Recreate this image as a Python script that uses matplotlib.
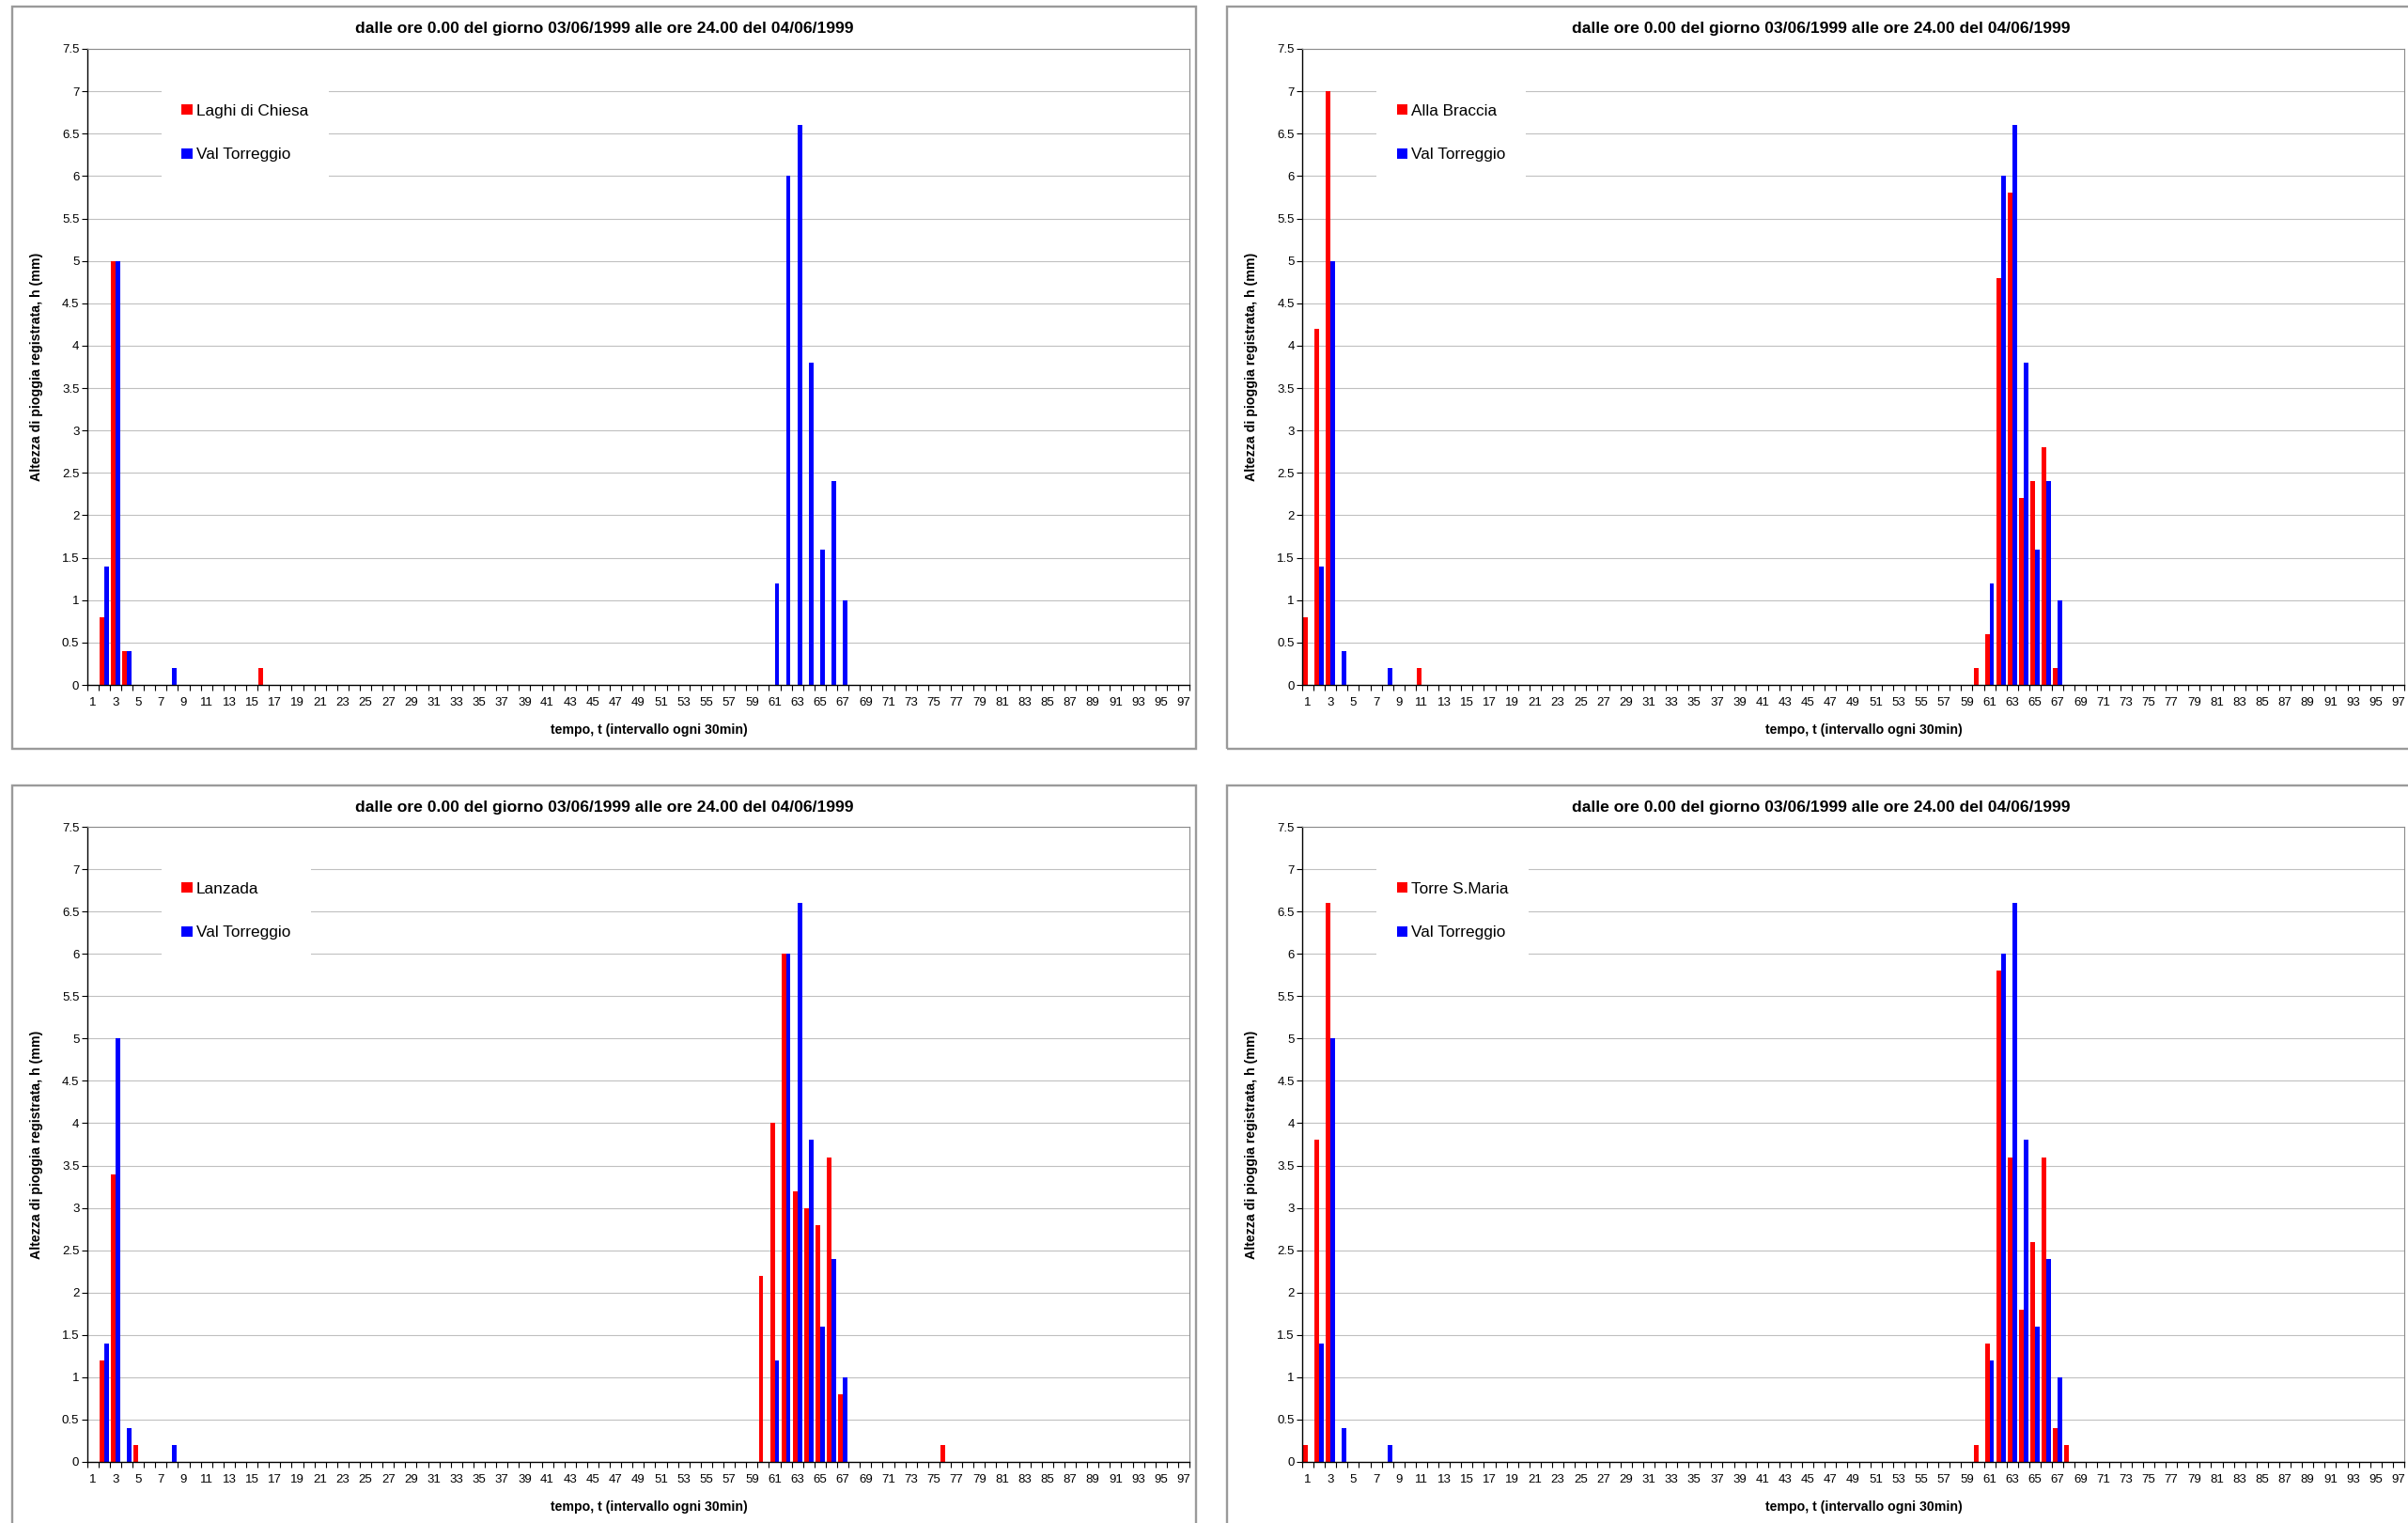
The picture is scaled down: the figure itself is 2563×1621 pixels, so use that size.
"""
Pioggia registrata 03-04/06/1999: quattro stazioni confrontate con Val Torreggio.
"""
import numpy as np
import matplotlib
matplotlib.use('Agg')
import matplotlib.pyplot as plt
from matplotlib.patches import Rectangle
from matplotlib.ticker import FixedLocator, FormatStrFormatter

# intervals of 30 min, 1..97
intervals = np.arange(1, 98)

# Val Torreggio (same series in every panel)
torreggio_t = [2, 3, 4, 8, 61, 62, 63, 64, 65, 66, 67]
torreggio_h = [1.4, 5.0, 0.4, 0.2, 1.2, 6.0, 6.6, 3.8, 1.6, 2.4, 1.0]

chiesa_t = [2, 3, 4, 16]
chiesa_h = [0.8, 5.0, 0.4, 0.2]

braccia_t = [1, 2, 3, 11, 60, 61, 62, 63, 64, 65, 66, 67]
braccia_h = [0.8, 4.2, 7.0, 0.2, 0.2, 0.6, 4.8, 5.8, 2.2, 2.4, 2.8, 0.2]

lanzada_t = [2, 3, 5, 60, 61, 62, 63, 64, 65, 66, 67, 76]
lanzada_h = [1.2, 3.4, 0.2, 2.2, 4.0, 6.0, 3.2, 3.0, 2.8, 3.6, 0.8, 0.2]

torre_t = [1, 2, 3, 60, 61, 62, 63, 64, 65, 66, 67, 68]
torre_h = [0.2, 3.8, 6.6, 0.2, 1.4, 5.8, 3.6, 1.8, 2.6, 3.6, 0.4, 0.2]

stations = ["Laghi di Chiesa", "Alla Braccia", "Lanzada", "Torre S.Maria"]
station_data = [(chiesa_t, chiesa_h), (braccia_t, braccia_h),
                (lanzada_t, lanzada_h), (torre_t, torre_h)]

title = "dalle ore 0.00 del giorno 03/06/1999 alle ore 24.00 del 04/06/1999"
xlabel = "tempo, t (intervallo ogni 30min)"
ylabel = "Altezza di pioggia registrata, h (mm)"

plt.rcParams['font.family'] = ['Liberation Sans', 'DejaVu Sans']

W, H = 2563, 1621


def fig_rect(x0, y0, x1, y1):
    # pixel box (top-left origin) -> figure fraction [l, b, w, h]
    return [x0 / W, 1 - y1 / H, (x1 - x0) / W, (y1 - y0) / H]


def full_series(t, h):
    vals = np.zeros(len(intervals))
    vals[np.array(t) - 1] = h
    return vals


def make_chart():
    fig = plt.figure(figsize=(W / 100, H / 100), dpi=100)

    ax_boxes = [(92.7, 52, 1266, 729), (1386, 52, 2559, 729),
                (92.7, 880, 1266, 1556), (1386, 880, 2559, 1556)]
    frames = [(13, 7, 1273, 797), (1306, 7, 2570, 797),
              (13, 836, 1273, 1630), (1306, 836, 2570, 1630)]

    torreggio = full_series(torreggio_t, torreggio_h)

    for box, frame, name, (t, h) in zip(ax_boxes, frames, stations, station_data):
        fx0, fy0, fx1, fy1 = frame
        fig.add_artist(Rectangle((fx0 / W, 1 - fy1 / H), (fx1 - fx0) / W, (fy1 - fy0) / H,
                                 transform=fig.transFigure, fill=False,
                                 edgecolor='#9a9a9a', linewidth=1.7))
        fig.text((fx0 + fx1) / 2 / W, 1 - (fy0 + 23) / H, title, ha='center', va='center',
                 fontsize=12.6, fontweight='bold')

        ax = fig.add_axes(fig_rect(*box))
        red = full_series(t, h)
        b1 = ax.bar(intervals - 0.2, red, width=0.4, color='#ff0000', linewidth=0, label=name)
        b2 = ax.bar(intervals + 0.2, torreggio, width=0.4, color='#0000ff', linewidth=0,
                    label="Val Torreggio")

        ax.set_xlim(0.5, 97.5)
        ax.set_ylim(0, 7.5)
        ax.set_axisbelow(True)
        ax.yaxis.grid(True, color='#c0c0c0', linewidth=0.8)

        ax.set_yticks(np.arange(0, 7.51, 0.5))
        ax.yaxis.set_major_formatter(FormatStrFormatter('%g'))
        ax.tick_params(axis='y', direction='out', length=4, width=0.8, labelsize=9.5, pad=2)

        ax.xaxis.set_major_locator(FixedLocator(intervals[::2]))
        ax.xaxis.set_minor_locator(FixedLocator(np.arange(0.5, 98, 1)))
        ax.tick_params(axis='x', which='major', length=0, labelsize=9.5, pad=9.5)
        ax.tick_params(axis='x', which='minor', direction='out', length=4, width=0.8)

        for side in ['left', 'bottom']:
            ax.spines[side].set_color('black')
            ax.spines[side].set_linewidth(1.0)
        for side in ['top', 'right']:
            ax.spines[side].set_color('#8a8a8a')
            ax.spines[side].set_linewidth(0.8)

        ax.set_xlabel(xlabel, fontsize=10.2, fontweight='bold', va='center')
        ax.xaxis.set_label_coords(0.51, -0.071)
        ax.set_ylabel(ylabel, fontsize=10.2, fontweight='bold', va='center')
        ax.yaxis.set_label_coords(-0.0458, 0.5)

        leg = ax.legend(handles=[b1, b2], loc='upper left', bbox_to_anchor=(0.0675, 0.945),
                        fontsize=12.4, frameon=True, fancybox=False, framealpha=1,
                        facecolor='white', edgecolor='none', borderpad=1.25,
                        handlelength=0.65, handleheight=0.6, handletextpad=0.25,
                        labelspacing=1.84, borderaxespad=0)
        leg.set_zorder(5)

    fig.savefig("out.png", dpi=100)
    plt.close(fig)


if __name__ == '__main__':
    make_chart()
